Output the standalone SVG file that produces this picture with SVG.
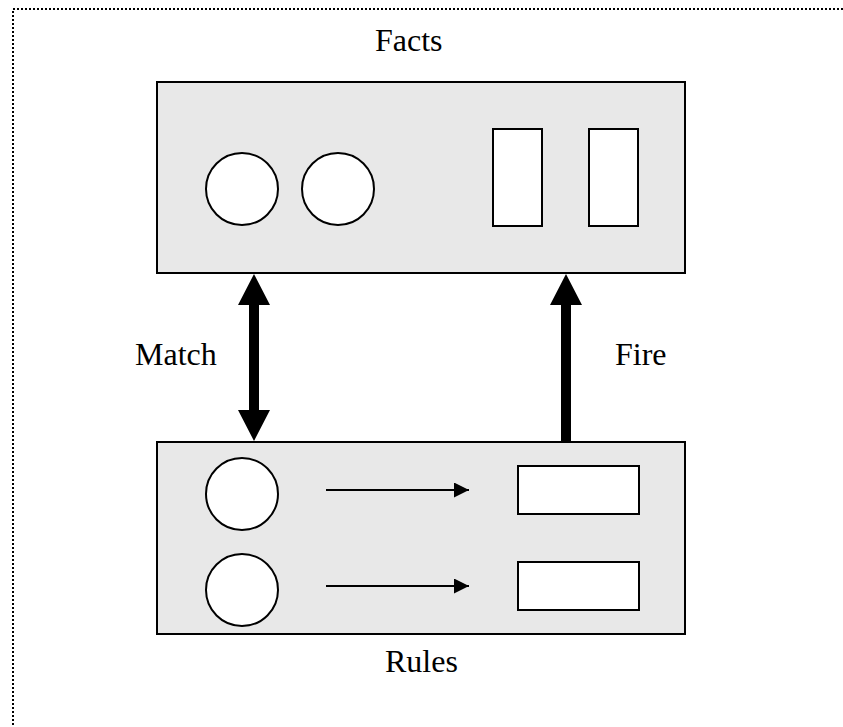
<svg xmlns="http://www.w3.org/2000/svg" width="843" height="727" viewBox="0 0 843 727">
<style>
.box{fill:#e8e8e8;stroke:#000;stroke-width:2}
.shape{fill:#fff;stroke:#000;stroke-width:2}
.lbl{font-family:"Liberation Serif","Times New Roman",serif;font-size:32px;fill:#000}
.thin{stroke:#000;stroke-width:2;fill:none}
</style>
<defs>
<marker id="ah" markerWidth="15" markerHeight="15" refX="15" refY="7.5" orient="auto" markerUnits="userSpaceOnUse">
<path d="M0,0 L15,7.5 L0,15 Z" fill="#000"/>
</marker>
</defs>
<rect x="13" y="9" width="840" height="730" fill="none" stroke="#000" stroke-width="2" stroke-dasharray="2,2"/>
<g id="facts">
<rect class="box" x="157" y="82" width="528" height="191"/>
<circle class="shape" cx="242" cy="189" r="36"/>
<circle class="shape" cx="338" cy="189" r="36"/>
<rect class="shape" x="493" y="129" width="49" height="97"/>
<rect class="shape" x="589" y="129" width="49" height="97"/>
<text class="lbl" x="375" y="51">Facts</text>
</g>
<g id="rules">
<rect class="box" x="157" y="442" width="528" height="192"/>
<circle class="shape" cx="242" cy="494" r="36"/>
<circle class="shape" cx="242" cy="590" r="36"/>
<rect class="shape" x="518" y="466" width="121" height="48"/>
<rect class="shape" x="518" y="562" width="121" height="48"/>
<line class="thin" x1="326" y1="490" x2="469" y2="490" marker-end="url(#ah)"/>
<line class="thin" x1="326" y1="586" x2="469" y2="586" marker-end="url(#ah)"/>
<text class="lbl" x="385" y="672">Rules</text>
</g>
<g id="connectors">
<path d="M254,274 L270,305 L259,305 L259,410 L270,410 L254,441 L238,410 L249,410 L249,305 L238,305 Z" fill="#000"/>
<path d="M566,274 L582,305 L571,305 L571,441 L561,441 L561,305 L550,305 Z" fill="#000"/>
<text class="lbl" x="135" y="365">Match</text>
<text class="lbl" x="615" y="365">Fire</text>
</g>
</svg>
